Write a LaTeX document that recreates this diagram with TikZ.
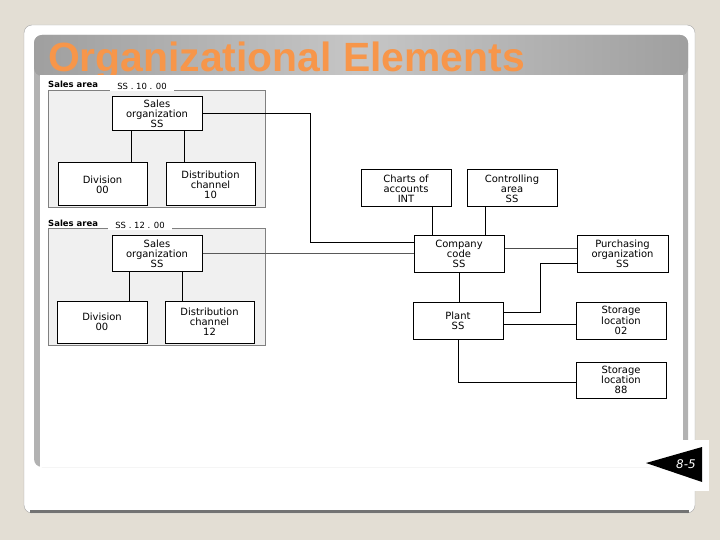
\documentclass[tikz,border=0pt]{standalone}
\usepackage{fontspec}
\setmainfont{DejaVu Sans}
\newfontfamily\titlefont{Liberation Sans}

\definecolor{slidebg}{HTML}{E3DED4}
\definecolor{titleorange}{HTML}{F7964A}
\definecolor{panelgray}{HTML}{B2B2B2}
\definecolor{areagray}{HTML}{F0F0F0}

\begin{document}
\begin{tikzpicture}[
    x=1bp, y=-1bp,
    box/.style={rectangle, draw, line width=1bp, fill=white, minimum width=90bp, minimum height=36bp, inner sep=1bp, align=center, font=\fontsize{10}{10.2}\selectfont},
    area/.style={rectangle, draw=gray, fill=areagray, minimum width=217bp, minimum height=117bp},
    arealabel/.style={anchor=west, inner sep=0pt, font=\fontsize{8.5}{9}\selectfont\bfseries},
    codelabel/.style={fill=white, inner sep=0pt, minimum width=64bp, minimum height=11bp, font=\fontsize{8.5}{9}\selectfont},
    link/.style={draw, line width=1bp}
]
\useasboundingbox (0,0) rectangle (720,540);

% Slide frame
\fill[slidebg] (0,0) rectangle (720,540);
\draw[gray!70, fill=white, rounded corners=8bp] (24,25) rectangle (695,513);
\draw[gray!90!black, line width=2.5bp] (30,511.5) -- (689,511.5);
\fill[panelgray, rounded corners=8bp] (34,35) rectangle (688,467);
\shade[left color=gray!75, right color=gray!75, middle color=gray!45, rounded corners=8bp] (34,35) rectangle (688,76);
\node[anchor=base west, inner sep=0pt, text=titleorange, font=\titlefont\fontsize{41}{41}\selectfont\bfseries] (title) at (48,72) {Organizational Elements};
\fill[white] (40,75) rectangle (683,467);

% Sales areas
\node[area] (sa1) at (156.5,148.5) {};
\node[arealabel] (sa1label) at (48,84) {Sales area};
\node[codelabel] (sa1code) at (142,86) {SS . 10 . 00};
\node[area] (sa2) at (156.5,286.5) {};
\node[arealabel] (sa2label) at (48,223) {Sales area};
\node[codelabel] (sa2code) at (140,225) {SS . 12 . 00};

% Sales area 1
\node[box, minimum height=34bp] (so1) at (157,114) {Sales\\organization\\SS};
\node[box, minimum width=89bp, minimum height=43bp] (div1) at (102.5,184.5) {Division\\00};
\node[box, minimum width=89bp, minimum height=43bp] (dc1) at (210.5,184.5) {Distribution\\channel\\10};

% Sales area 2
\node[box, minimum height=35bp] (so2) at (157,253.5) {Sales\\organization\\SS};
\node[box, minimum height=42bp] (div2) at (102,322) {Division\\00};
\node[box, minimum width=89bp, minimum height=42bp] (dc2) at (209.5,322) {Distribution\\channel\\12};

% Accounting and logistics
\node[box, minimum height=37bp] (coa) at (406,188.5) {Charts of\\accounts\\INT};
\node[box, minimum height=37bp] (ca) at (512,188.5) {Controlling\\area\\SS};
\node[box] (cc) at (459,254) {Company\\code\\SS};
\node[box, minimum width=91bp] (po) at (622.5,254) {Purchasing\\organization\\SS};
\node[box, minimum height=37bp] (plant) at (458,320.5) {Plant\\SS};
\node[box, minimum height=37bp] (sl02) at (621,320.5) {Storage\\location\\02};
\node[box] (sl88) at (621,380) {Storage\\location\\88};

% Sales area links
\draw[link] ([xshift=-26bp]so1.south) -- ([xshift=-26bp]so1.south |- div1.north);
\draw[link] ([xshift=27bp]so1.south) -- ([xshift=27bp]so1.south |- dc1.north);
\draw[link] ([xshift=-28bp]so2.south) -- ([xshift=-28bp]so2.south |- div2.north);
\draw[link] ([xshift=25bp]so2.south) -- ([xshift=25bp]so2.south |- dc2.north);

% Links to company code
\draw[link] (so1.east) -- ++(108,0) |- ([yshift=11bp]cc.west);
\draw[link, draw=black!65] (so2.east) -- (so2.east -| cc.west);
\draw[link] ([xshift=26bp]coa.south) -- ([xshift=26bp]coa.south |- cc.north);
\draw[link] ([xshift=-27bp]ca.south) -- ([xshift=-27bp]ca.south |- cc.north);
\draw[link, draw=black!70] ([yshift=5bp]cc.east) -- ([yshift=5bp]cc.east -| po.west);
\draw[link] (cc.south) -- (cc.south |- plant.north);

% Plant links
\draw[link] ([yshift=-9bp]po.west) -- ++(-36,0) |- ([yshift=8.5bp]plant.east);
\draw[link] ([yshift=-3.5bp]plant.east) -- ([yshift=-3.5bp]plant.east -| sl02.west);
\draw[link] (plant.south) |- ([yshift=-2bp]sl88.west);

% Slide number
\fill[white] (660,440) rectangle (709,491);
\fill[black] (646,463) -- (702,447) -- (702,482) -- cycle;
\node[text=white, font=\itshape\fontsize{12}{12}\selectfont] (pagenum) at (686,464) {8-5};
\end{tikzpicture}
\end{document}
